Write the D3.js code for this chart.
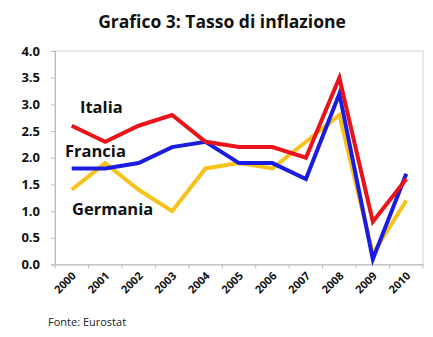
<!DOCTYPE html>
<html><head><meta charset="utf-8">
<script src="https://cdn.jsdelivr.net/npm/d3@7"></script>
<style>body{margin:0;background:#fff}svg{display:block}</style>
</head><body>
<svg id="c" width="433" height="337"></svg>
<script>
const years = ["2000","2001","2002","2003","2004","2005","2006","2007","2008","2009","2010"];
const italia   = [2.6, 2.3, 2.6, 2.8, 2.3, 2.2, 2.2, 2.0, 3.5, 0.8, 1.6];
const francia  = [1.8, 1.8, 1.9, 2.2, 2.3, 1.9, 1.9, 1.6, 3.2, 0.1, 1.7];
const germania = [1.4, 1.9, 1.4, 1.0, 1.8, 1.9, 1.8, 2.3, 2.8, 0.2, 1.2];
const yTicks = [0, 0.5, 1, 1.5, 2, 2.5, 3, 3.5, 4];
const seriesNames = ["Germania", "Francia", "Italia"];
const labelValues = {Italia: 2.84, Francia: 2.02, Germania: 0.92};

const series = [
  {name: "Germania", values: germania, color: "#f6c21c"},
  {name: "Francia", values: francia, color: "#1c1ce0"},
  {name: "Italia", values: italia, color: "#e8141a"}
];

const svg = d3.select("#c");
const font = "'Open Sans', 'Liberation Sans', sans-serif";
const L = 55, R = 423, T = 51, B = 264.5;

const x = d3.scaleBand().domain(years).range([L, R]);
const y = d3.scaleLinear().domain([0, 4]).range([B, T]);

svg.append("text").attr("x", 222).attr("y", 28).attr("text-anchor", "middle")
  .attr("font-family", font).attr("font-weight", "bold").attr("font-size", 17.5)
  .attr("fill", "#111").text("Grafico 3: Tasso di inflazione");

svg.append("rect").attr("x", L).attr("y", T).attr("width", R - L).attr("height", B - T)
  .attr("fill", "none").attr("stroke", "#d0d0d0").attr("stroke-width", 1);

const ya = svg.append("g").attr("transform", `translate(${L},0)`)
  .call(d3.axisLeft(y).tickValues(yTicks).tickFormat(d3.format(".1f")).tickSize(4).tickPadding(11));
ya.select(".domain").attr("stroke", "#bbb");
ya.selectAll(".tick line").attr("stroke", "#bbb");
ya.selectAll("text").attr("font-family", font).attr("font-weight", "bold").attr("font-size", 13).attr("fill", "#111");

const xa = svg.append("g").attr("transform", `translate(0,${B})`)
  .call(d3.axisBottom(x).tickSize(0));
xa.select(".domain").attr("stroke", "#bbb");
xa.selectAll(".tick line").remove();
const bounds = years.map(d => x(d)).concat([R]);
xa.selectAll(".bt").data(bounds).enter().append("line")
  .attr("x1", d => d).attr("x2", d => d).attr("y1", 0).attr("y2", 4).attr("stroke", "#bbb");
xa.selectAll(".tick text")
  .attr("font-family", font).attr("font-weight", "bold").attr("font-size", 11).attr("fill", "#111")
  .attr("text-anchor", "end").attr("dy", null).attr("y", 0).attr("x", 0)
  .attr("transform", "translate(5,12) rotate(-45)");

const line = d3.line().x((d, i) => x(years[i]) + x.bandwidth() / 2).y(d => y(d));
svg.selectAll(".ser").data(series).enter().append("path")
  .attr("d", d => line(d.values)).attr("fill", "none")
  .attr("stroke", d => d.color).attr("stroke-width", 4).attr("stroke-linejoin", "miter");

const labelPos = {Italia: 80, Francia: 65, Germania: 72};
seriesNames.forEach(n => {
  svg.append("text").attr("x", labelPos[n]).attr("y", y(labelValues[n]))
    .attr("font-family", font).attr("font-weight", "bold").attr("font-size", 16.5)
    .attr("fill", "#111").text(n);
});

svg.append("text").attr("x", 48).attr("y", 326).attr("font-family", font)
  .attr("font-size", 11).attr("fill", "#222").text("Fonte: Eurostat");
</script>
</body></html>
